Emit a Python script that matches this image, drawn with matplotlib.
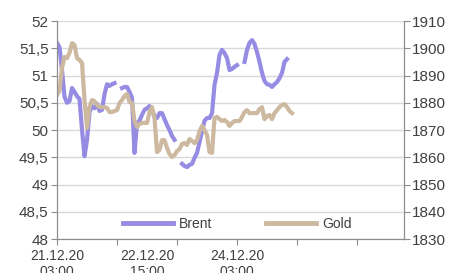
import numpy as np
import matplotlib.pyplot as plt
from matplotlib.ticker import FuncFormatter

plt.rcParams['font.family'] = ['Liberation Sans', 'DejaVu Sans']

# hourly values from 21.12.20 03:00
brent = [51.60, 51.52, 51.10, 50.61, 50.50, 50.53, 50.77, 50.70, 50.62, 50.57,
         50.00, 49.52, 49.82, 50.33, 50.44, 50.40, 50.48, 50.35, 50.37, 50.66,
         50.84, 50.81, 50.84, 50.86, np.nan, np.nan, 50.77, 50.79, 50.79, 50.70,
         50.59, 49.58, 50.13, 50.17, 50.28, 50.37, 50.40, 50.44, 50.37, 50.24,
         50.22, 50.31, 50.31, 50.20, 50.09, 50.00, 49.89, 49.82, np.nan, np.nan,
         49.38, 49.34, 49.32, 49.36, 49.38, 49.49, 49.58, 49.78, 49.98, 50.17,
         50.22, 50.22, 50.31, 50.83, 51.05, 51.38, 51.47, 51.41, 51.32, 51.10,
         51.12, 51.16, 51.19, np.nan, np.nan, 51.25, 51.47, 51.60, 51.65, 51.58,
         51.43, 51.25, 51.05, 50.90, 50.84, 50.83, 50.79, 50.84, 50.88, 50.95,
         51.05, 51.25, 51.30]
gold = [1882.8, 1884.3, 1892.8, 1896.8, 1896.4, 1898.3, 1901.9, 1901.2, 1896.4, 1895.7,
        1894.6, 1881.0, 1870.7, 1878.4, 1881.0, 1880.6, 1879.2, 1878.4, 1878.4, 1878.4,
        1878.1, 1876.6, 1876.6, 1877.0, 1877.3, 1879.9, 1881.0, 1882.5, 1883.2, 1880.3,
        1879.9, 1873.3, 1871.1, 1872.2, 1872.6, 1872.6, 1872.6, 1876.6, 1878.4, 1874.4,
        1861.9, 1862.7, 1866.3, 1866.3, 1863.4, 1861.2, 1860.1, 1860.8, 1862.3, 1863.0,
        1864.9, 1865.2, 1864.5, 1866.7, 1866.0, 1865.2, 1866.3, 1869.6, 1871.5, 1870.0,
        1868.2, 1861.9, 1861.6, 1874.4, 1874.8, 1874.0, 1873.3, 1873.7, 1872.9, 1871.5,
        1872.6, 1873.3, 1873.3, 1873.3, 1874.8, 1876.6, 1877.3, 1876.2, 1876.2, 1876.2,
        1876.2, 1877.7, 1878.4, 1874.0, 1875.1, 1875.5, 1874.0, 1876.2, 1877.3, 1878.4,
        1879.2, 1879.5, 1878.4, 1877.0, 1876.2]
date_labels = ['21.12.20\n03:00', '22.12.20\n15:00', '24.12.20\n03:00']
label_hours = [0, 36, 72]

brent_color = '#968ce3'
gold_color = '#cdb9a0'
txt = '#404040'
spine = '#8c8c8c'

fig = plt.figure(figsize=(4.54, 2.73), dpi=100)
ax = fig.add_axes([0.1256, 0.1245, 0.7643, 0.7985])
ax2 = ax.twinx()

l1, = ax.plot(np.arange(len(brent)), brent, color=brent_color, lw=3, label='Brent',
              solid_joinstyle='round')
l2, = ax2.plot(np.arange(len(gold)), gold, color=gold_color, lw=3, label='Gold',
               solid_joinstyle='round')

ax.set_xlim(0, 138.8)
ax.set_ylim(48, 52)
ax2.set_ylim(1830, 1910)
ax.set_yticks(np.arange(48, 52.01, 0.5))
ax2.set_yticks(np.arange(1830, 1911, 10))
ax.yaxis.set_major_formatter(FuncFormatter(lambda v, p: ('%g' % v).replace('.', ',')))

ax.grid(axis='y', color='#d9d9d9', lw=1)
ax.set_axisbelow(True)

ax.xaxis.remove_overlapping_locs = False
ax.set_xticks([0, 24, 48, 72, 96, 120])
ax.set_xticklabels([])
ax.set_xticks(label_hours, minor=True)
ax.set_xticklabels(date_labels, minor=True)
ax.tick_params(axis='x', which='major', length=4, color=spine, direction='out')
ax.tick_params(axis='x', which='minor', length=0, pad=7, labelsize=10, labelcolor=txt)
ax.tick_params(axis='y', length=4, color=spine, labelsize=11, labelcolor=txt, pad=2)
ax2.tick_params(axis='y', length=4, color=spine, labelsize=11, labelcolor=txt, pad=2)

for a in (ax, ax2):
    a.spines['top'].set_visible(False)
    for s in ('left', 'right', 'bottom'):
        a.spines[s].set_color(spine)

leg = ax2.legend(handles=[l1, l2], loc='center', bbox_to_anchor=(0.52, 0.069),
                 ncol=2, frameon=False, fontsize=10, handlelength=3.6,
                 handletextpad=0.4, columnspacing=3.9)
for t in leg.get_texts():
    t.set_color(txt)
for h in leg.legend_handles:
    h.set_linewidth(3.5)

fig.savefig('out.png', dpi=100)
